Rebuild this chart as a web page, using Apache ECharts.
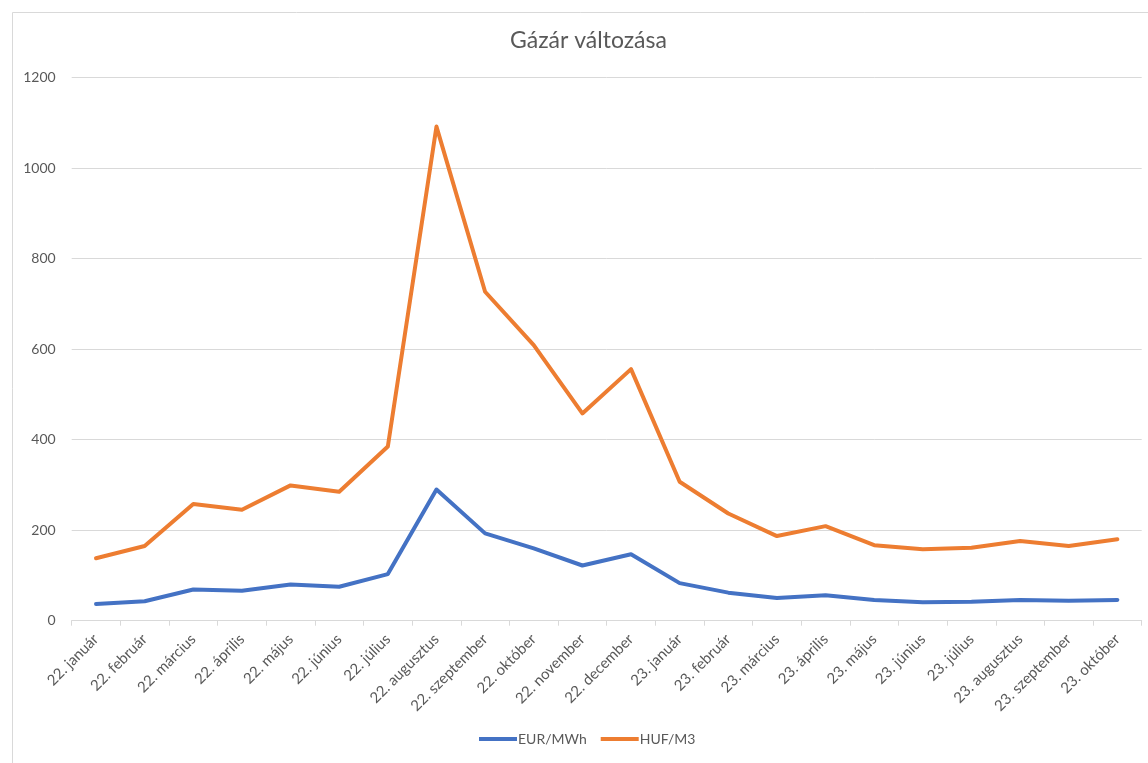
<!DOCTYPE html>
<html>
<head>
<meta charset="utf-8">
<script src="https://cdn.jsdelivr.net/npm/echarts@6/dist/echarts.min.js"></script>
<style>html,body{margin:0;padding:0;background:#fff}#c{width:1148px;height:763px}</style>
</head>
<body>
<div id="c"></div>
<script>
const categories = ["22. január","22. február","22. március","22. április","22. május","22. június","22. július","22. augusztus","22. szeptember","22. október","22. november","22. december","23. január","23. február","23. március","23. április","23. május","23. június","23. július","23. augusztus","23. szeptember","23. október"];
const eurMwh = [37,43,69,66,80,75,103,290,193,160,122,147,83,62,50,56,46,41,42,46,44,46];
const hufM3 = [138,165,258,245,299,285,385,1092,727,609,458,556,307,237,187,209,167,158,161,176,165,180];
const yTicks = [0,200,400,600,800,1000,1200];

const font = 'Lato, "Open Sans", sans-serif';
const chart = echarts.init(document.getElementById('c'), null, {renderer:'canvas'});
chart.setOption({
  animation:false,
  backgroundColor:'#fff',
  graphic:[{type:'rect',shape:{x:12.5,y:12.5,width:1200,height:800},style:{fill:'none',stroke:'#d9d9d9',lineWidth:1},silent:true}],
  title:{text:'Gázár változása',left:510,top:29,padding:0,textStyle:{fontFamily:font,fontSize:23,fontWeight:'normal',color:'#595959'}},
  grid:{left:71.7,right:6.3,top:77.7,bottom:142.3,containLabel:false},
  legend:{bottom:12,left:474,itemWidth:38,itemHeight:4,itemGap:14,icon:'rect',
    textStyle:{fontFamily:font,fontSize:14,color:'#595959',padding:[0,0,0,-4]},
    data:['EUR/MWh','HUF/M3']},
  xAxis:{type:'category',data:categories,boundaryGap:true,
    axisLine:{lineStyle:{color:'#d9d9d9',width:1}},
    axisTick:{show:true,length:5,lineStyle:{color:'#d9d9d9'}},
    axisLabel:{rotate:45,interval:0,margin:16,fontFamily:font,fontSize:15,color:'#595959'}},
  yAxis:{type:'value',min:0,max:1200,interval:200,
    axisLine:{show:false},axisTick:{show:false},
    splitLine:{lineStyle:{color:'#d9d9d9',width:1}},
    axisLabel:{margin:16,fontFamily:font,fontSize:14,color:'#595959',
      formatter:v=>yTicks.includes(v)?String(v):''}},
  series:[
    {name:'EUR/MWh',type:'line',data:eurMwh,showSymbol:false,symbol:'none',
      lineStyle:{color:'#4472C4',width:4,cap:'round',join:'round'},itemStyle:{color:'#4472C4'}},
    {name:'HUF/M3',type:'line',data:hufM3,showSymbol:false,symbol:'none',
      lineStyle:{color:'#ED7D31',width:4,cap:'round',join:'round'},itemStyle:{color:'#ED7D31'}}
  ]
});
</script>
</body>
</html>
